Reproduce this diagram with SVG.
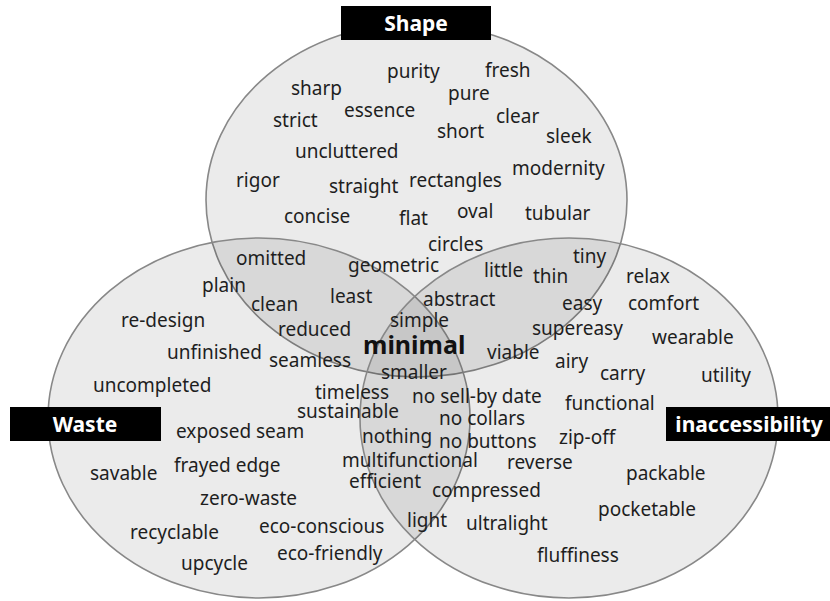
<svg xmlns="http://www.w3.org/2000/svg" width="830" height="601" viewBox="0 0 830 601">
<style>
.set{fill:#000;fill-opacity:0.08;stroke:#888;stroke-width:1.6}
.box{fill:#000}
.lab{fill:#fff;font-family:"Noto Sans","Open Sans",sans-serif;font-weight:bold;font-size:21px;text-anchor:middle}
.w{fill:#1e1e1e;font-family:"Noto Sans","Open Sans",sans-serif;font-size:19px}
.big{fill:#111;font-family:"Noto Sans","Open Sans",sans-serif;font-size:25px;font-weight:bold}
</style>
<rect width="830" height="601" fill="#fff"/>
<g id="set-shape">
<ellipse class="set" cx="416.5" cy="200" rx="210.5" ry="177"/>
</g>
<g id="set-waste">
<ellipse class="set" cx="259" cy="418" rx="211" ry="180"/>
</g>
<g id="set-inaccessibility">
<ellipse class="set" cx="569" cy="418" rx="209" ry="180"/>
</g>
<g id="label-shape">
<rect class="box" x="341" y="6" width="150" height="34"/>
<text class="lab" x="416" y="31">Shape</text>
</g>
<g id="label-waste">
<rect class="box" x="10" y="407" width="151" height="34"/>
<text class="lab" x="85" y="432">Waste</text>
</g>
<g id="label-inaccessibility">
<rect class="box" x="666" y="407" width="164" height="34"/>
<text class="lab" x="749" y="432" font-size="20">inaccessibility</text>
</g>
<g id="connectors"/>
<g id="words-shape">
<text class="w" x="387" y="78">purity</text>
<text class="w" x="485" y="77">fresh</text>
<text class="w" x="291" y="95">sharp</text>
<text class="w" x="448" y="100">pure</text>
<text class="w" x="344" y="117">essence</text>
<text class="w" x="496" y="123">clear</text>
<text class="w" x="273" y="127">strict</text>
<text class="w" x="437" y="138">short</text>
<text class="w" x="546" y="143">sleek</text>
<text class="w" x="295" y="158">uncluttered</text>
<text class="w" x="512" y="175">modernity</text>
<text class="w" x="236" y="187">rigor</text>
<text class="w" x="329" y="193">straight</text>
<text class="w" x="409" y="187">rectangles</text>
<text class="w" x="284" y="223">concise</text>
<text class="w" x="399" y="225">flat</text>
<text class="w" x="457" y="218">oval</text>
<text class="w" x="525" y="220">tubular</text>
<text class="w" x="428" y="251">circles</text>
</g>
<g id="words-overlaps">
<text class="w" x="236" y="265">omitted</text>
<text class="w" x="348" y="272">geometric</text>
<text class="w" x="330" y="303">least</text>
<text class="w" x="251" y="311">clean</text>
<text class="w" x="278" y="336">reduced</text>
<text class="w" x="269" y="367">seamless</text>
<text class="w" x="484" y="277">little</text>
<text class="w" x="533" y="283">thin</text>
<text class="w" x="573" y="263">tiny</text>
<text class="w" x="423" y="306">abstract</text>
<text class="w" x="562" y="310">easy</text>
<text class="w" x="532" y="335">supereasy</text>
<text class="w" x="487" y="359">viable</text>
<text class="w" x="390" y="327">simple</text>
<text class="big" x="363" y="354">minimal</text>
<text class="w" x="381" y="379">smaller</text>
<text class="w" x="412" y="403">no sell-by date</text>
<text class="w" x="439" y="425">no collars</text>
<text class="w" x="362" y="443">nothing</text>
<text class="w" x="439" y="448">no buttons</text>
<text class="w" x="342" y="467">multifunctional</text>
<text class="w" x="349" y="488">efficient</text>
<text class="w" x="407" y="527">light</text>
</g>
<g id="words-waste">
<text class="w" x="202" y="292">plain</text>
<text class="w" x="121" y="327">re-design</text>
<text class="w" x="167" y="359">unfinished</text>
<text class="w" x="93" y="392">uncompleted</text>
<text class="w" x="315" y="399">timeless</text>
<text class="w" x="297" y="418">sustainable</text>
<text class="w" x="176" y="438">exposed seam</text>
<text class="w" x="174" y="472">frayed edge</text>
<text class="w" x="90" y="480">savable</text>
<text class="w" x="200" y="505">zero-waste</text>
<text class="w" x="130" y="539">recyclable</text>
<text class="w" x="259" y="533">eco-conscious</text>
<text class="w" x="277" y="560">eco-friendly</text>
<text class="w" x="181" y="570">upcycle</text>
</g>
<g id="words-inaccessibility">
<text class="w" x="626" y="283">relax</text>
<text class="w" x="628" y="310">comfort</text>
<text class="w" x="652" y="344">wearable</text>
<text class="w" x="555" y="368">airy</text>
<text class="w" x="600" y="380">carry</text>
<text class="w" x="701" y="382">utility</text>
<text class="w" x="565" y="410">functional</text>
<text class="w" x="559" y="444">zip-off</text>
<text class="w" x="507" y="469">reverse</text>
<text class="w" x="626" y="480">packable</text>
<text class="w" x="432" y="497">compressed</text>
<text class="w" x="598" y="516">pocketable</text>
<text class="w" x="466" y="530">ultralight</text>
<text class="w" x="537" y="562">fluffiness</text>
</g>
</svg>
